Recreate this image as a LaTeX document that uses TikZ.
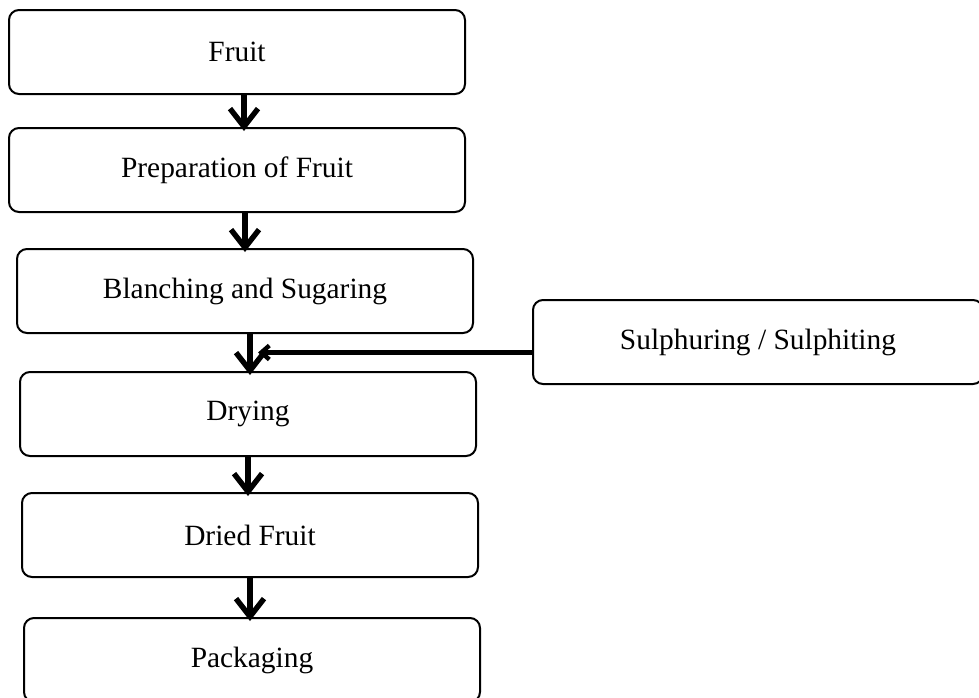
\documentclass[tikz,border=0pt]{standalone}
\usepackage{fontspec}
\setmainfont{Liberation Serif}
\usetikzlibrary{arrows.meta,positioning,calc}

\tikzset{
  stepbox/.style={draw,line width=1pt,rounded corners=5pt,
                  minimum width=228pt,minimum height=42pt,align=center,inner sep=0pt},
  flow/.style={line width=2.7pt,shorten >=-2pt,-{Straight Barb[length=9pt,width=14pt]}},
  feed/.style={line width=2.2pt,-{Straight Barb[length=4pt,width=7pt]}},
}

\begin{document}
\begin{tikzpicture}[x=0.5pt,y=-0.5pt,font=\fontsize{14.7}{17}\selectfont]
  \useasboundingbox (0,0) rectangle (979,697);
  \clip (0,0) rectangle (979,697);

  % main line
  \node[stepbox] (fruit)  at (237,52)  {Fruit};
  \node[stepbox] (prep)   at (237,170) {Preparation of Fruit};
  \node[stepbox] (blanch) at (245,291) {Blanching and Sugaring};
  \node[stepbox] (dry)    at (248,414) {Drying};
  \node[stepbox] (dried)  at (250,535) {Dried Fruit};
  \node[stepbox] (pack)   at (252,660) {Packaging};

  % side step
  \node[stepbox,minimum width=225pt] (sulph) at (758,342) {Sulphuring / Sulphiting};

  % arrows
  \coordinate (a1) at ($(fruit.south)+(7,0)$);
  \coordinate (a2) at ($(prep.south)+(8,0)$);
  \coordinate (a3) at ($(blanch.south)+(5,0)$);
  \draw[flow] (a1)          -- (a1 |- prep.north);
  \draw[flow] (a2)          -- (a2 |- blanch.north);
  \draw[flow] (a3)          -- (a3 |- dry.north);
  \draw[flow] (dry.south)   -- (dry.south |- dried.north);
  \draw[flow] (dried.south) -- (dried.south |- pack.north);

  \coordinate (join) at ($(a3)!0.5!(a3 |- dry.north)+(8,0)$);
  \draw[feed] (sulph.west |- join) -- (join);
\end{tikzpicture}
\end{document}
